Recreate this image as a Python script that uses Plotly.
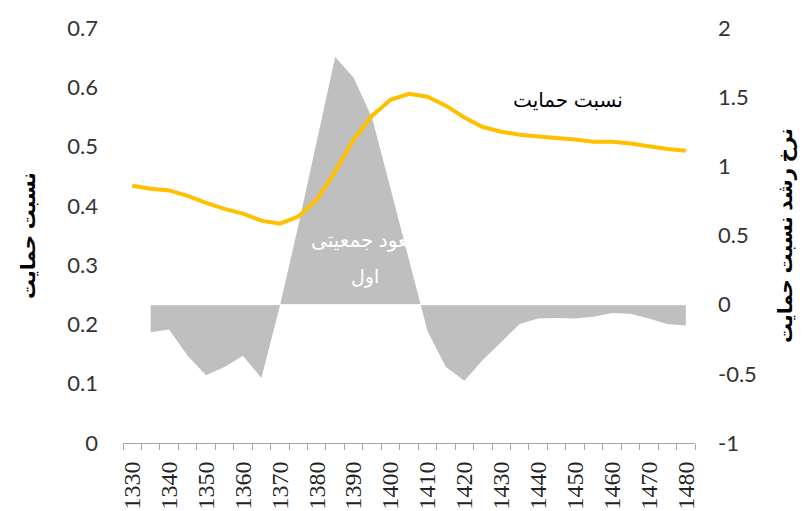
import plotly.graph_objects as go

years = list(range(1330, 1485, 5))

support_ratio = [0.434, 0.429, 0.426, 0.417, 0.405, 0.395, 0.387, 0.375, 0.370, 0.382,
                 0.410, 0.458, 0.512, 0.552, 0.579, 0.589, 0.584, 0.569, 0.549, 0.533,
                 0.525, 0.520, 0.517, 0.515, 0.512, 0.508, 0.508, 0.505, 0.500, 0.496,
                 0.493]

growth_years = years[1:]
growth_rate = [-0.20, -0.18, -0.37, -0.51, -0.45, -0.37, -0.53, -0.01, 0.57, 1.18,
               1.79, 1.64, 1.35, 0.84, 0.32, -0.19, -0.45, -0.55, -0.40, -0.27,
               -0.14, -0.10, -0.097, -0.10, -0.087, -0.06, -0.065, -0.10, -0.14, -0.15]

left_ticks = [0, 0.1, 0.2, 0.3, 0.4, 0.5, 0.6, 0.7]
right_ticks = [-1, -0.5, 0, 0.5, 1, 1.5, 2]
label_years = list(range(1330, 1490, 10))

tick_font = dict(family="Lato, Open Sans, sans-serif", size=22, color="#333333")
fa_font = "Liberation Sans, Arial, DejaVu Sans, sans-serif"

fig = go.Figure()

# growth rate area, on the right-hand axis (drawn first / underneath)
fig.add_trace(go.Scatter(
    x=growth_years,
    y=growth_rate,
    mode="lines",
    fill="tozeroy",
    fillcolor="#BFBFBF",
    line=dict(width=0, color="#BFBFBF"),
    yaxis="y",
    hoverinfo="skip",
    showlegend=False,
))

# support ratio line, on the left-hand axis
fig.add_trace(go.Scatter(
    x=years,
    y=support_ratio,
    mode="lines",
    line=dict(color="#FFC000", width=4),
    yaxis="y2",
    showlegend=False,
))

# page body has an 8px margin, so the figure is a bit smaller than the window
fig.update_layout(
    width=801,
    height=503,
    margin=dict(l=115, r=114, t=20, b=68),
    plot_bgcolor="white",
    paper_bgcolor="white",
    xaxis=dict(
        range=[1327.5, 1482.5],
        tickvals=label_years,
        ticktext=[str(y) for y in label_years],
        tickangle=-90,
        ticks="",
        ticklabelstandoff=8,
        automargin=False,
        tickfont=dict(family="Liberation Serif, Times New Roman, serif", size=24, color="#222222"),
        showline=True,
        linecolor="#A6A6A6",
        linewidth=1,
        showgrid=False,
        zeroline=False,
        minor=dict(tickvals=[1327.5 + 5 * i for i in range(32)], ticks="outside",
                   ticklen=6, tickcolor="#A6A6A6", showgrid=False),
    ),
    yaxis=dict(
        side="right",
        range=[-1, 2],
        tickvals=right_ticks,
        ticktext=[f"{v:g}" for v in right_ticks],
        tickfont=tick_font,
        ticklabelstandoff=22,
        automargin=False,
        showgrid=False,
        zeroline=False,
        title=dict(text="نرخ رشد نسبت حمایت",
                   font=dict(family=fa_font, size=20, color="black", weight="bold"),
                   standoff=22),
    ),
    yaxis2=dict(
        overlaying="y",
        side="left",
        range=[0, 0.7],
        tickvals=left_ticks,
        ticktext=[f"{v:g}" for v in left_ticks],
        tickfont=tick_font,
        ticklabelstandoff=24,
        automargin=False,
        showgrid=False,
        zeroline=False,
        title=dict(text="نسبت حمایت",
                   font=dict(family=fa_font, size=20, color="black", weight="bold"),
                   standoff=26),
    ),
    shapes=[dict(type="line", xref="paper", yref="y", x0=0, x1=1, y0=0, y1=0,
                 line=dict(color="white", width=1), layer="above")],
    annotations=[
        dict(x=1448, y=0.578, xref="x", yref="y2", text="نسبت حمایت", showarrow=False,
             font=dict(family=fa_font, size=20, color="black")),
        dict(x=1394, y=0.342, xref="x", yref="y2", text="صعود جمعیتی", showarrow=False,
             font=dict(family=fa_font, size=20, color="white")),
        dict(x=1393, y=0.28, xref="x", yref="y2", text="اول", showarrow=False,
             font=dict(family=fa_font, size=19, color="white")),
    ],
)

fig.write_html("out.html")
